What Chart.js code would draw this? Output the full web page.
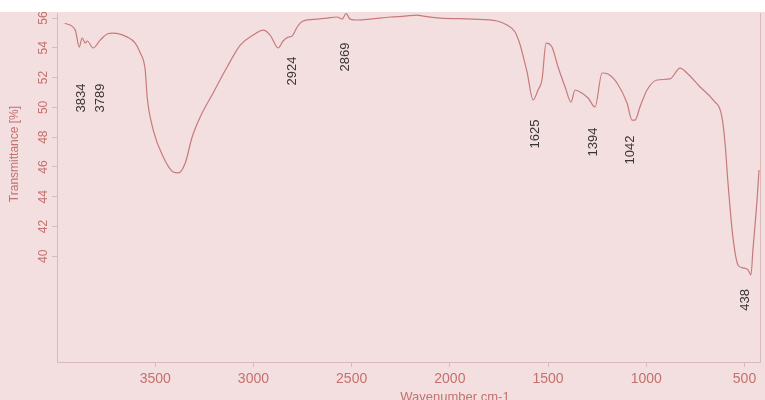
<!DOCTYPE html>
<html><head><meta charset="utf-8">
<script src="https://cdn.jsdelivr.net/npm/chart.js@4"></script>
<style>html,body{margin:0;padding:0;background:#fff;}canvas{display:block}</style>
</head><body>
<canvas id="c" width="765" height="400"></canvas>
<script>
// Spectrum values (wavenumber cm-1, transmittance %)
const wavenumbers = [3960,3907,3887,3872,3856,3846,3816,3780,3744,3714,3642,3602,3576,3551,3541,3510,3459,3408,3383,3347,3312,3271,3205,3134,3067,3001,2950,2915,2874,2849,2823,2803,2777,2747,2676,2625,2574,2548,2528,2508,2472,2406,2304,2228,2167,2136,2050,1882,1760,1709,1668,1642,1622,1607,1576,1551,1531,1510,1480,1449,1413,1383,1363,1337,1296,1261,1225,1195,1149,1098,1073,1057,1032,996,945,879,828,793,726,660,615,599,584,559,533,508,482,467,457,436,426];
const transmittance = [55.65,55.19,54.05,54.66,54.32,54.46,53.99,54.52,54.93,54.99,54.72,54.32,53.65,52.51,50.70,48.48,46.67,45.66,45.60,46.27,48.01,49.36,50.97,52.71,54.19,54.86,55.19,54.86,53.99,54.46,54.72,54.79,55.40,55.80,55.93,56.00,56.07,55.93,56.30,55.93,55.87,55.93,56.07,56.13,56.20,56.13,56.00,55.93,55.80,55.53,55.06,54.19,53.18,52.38,50.50,51.17,51.84,54.32,54.05,52.71,51.37,50.36,51.17,51.03,50.63,50.03,52.31,52.24,51.64,50.30,49.15,49.15,50.03,51.17,51.84,51.91,52.64,52.31,51.37,50.50,49.36,47.61,44.93,41.30,39.42,39.22,39.09,38.75,40.43,43.79,45.80];
const xTickValues = [3500,3000,2500,2000,1500,1000,500];
const yTickValues = [40,42,44,46,48,50,52,54,56];
const peakLabels = ['3834','3789','2924','2869','1625','1394','1042','438'];
const peakLabelWavenumber = [3877,3780,2803,2533,1566,1271,1083,497];
const peakLabelTransmittance = [50.63,50.63,52.44,53.38,48.21,47.68,47.14,37.07];
const xAxisTitle = 'Wavenumber cm-1';
const yAxisTitle = 'Transmittance [%]';

const pink = '#f3dfe0';
const axisColor = '#d9b9ba';
const labelColor = '#c4706e';
const lineColor = '#c77a7b';

const decor = {
  id: 'decor',
  beforeDraw(chart) {
    const ctx = chart.ctx;
    ctx.save();
    ctx.fillStyle = pink;
    ctx.fillRect(0, 0, chart.width, chart.height);
    ctx.restore();
  },
  afterDraw(chart) {
    const ctx = chart.ctx;
    const a = chart.chartArea;
    const xs = chart.scales.x, ys = chart.scales.y;
    ctx.save();
    ctx.strokeStyle = axisColor;
    ctx.lineWidth = 1;
    ctx.beginPath();
    ctx.moveTo(a.right + 0.5, a.top);
    ctx.lineTo(a.right + 0.5, a.bottom);
    ctx.stroke();
    ctx.fillStyle = '#3a3536';
    ctx.font = '13px "Liberation Sans", Arial, sans-serif';
    ctx.textAlign = 'center';
    ctx.textBaseline = 'middle';
    peakLabels.forEach((t, i) => {
      const px = xs.getPixelForValue(peakLabelWavenumber[i]);
      const py = ys.getPixelForValue(peakLabelTransmittance[i]);
      ctx.save();
      ctx.translate(px, py);
      ctx.rotate(-Math.PI / 2);
      ctx.fillText(t, 0, 0);
      ctx.restore();
    });
    ctx.fillStyle = labelColor;
    ctx.font = '12px "Liberation Sans", Arial, sans-serif';
    ctx.save();
    ctx.translate(15, 154);
    ctx.rotate(-Math.PI / 2);
    ctx.fillText(yAxisTitle, 0, 0);
    ctx.restore();
    ctx.font = '13px "Liberation Sans", Arial, sans-serif';
    ctx.textBaseline = 'top';
    ctx.fillText(xAxisTitle, 455, 391);
    ctx.fillStyle = '#ffffff';
    ctx.fillRect(0, 0, chart.width, 12);
    ctx.restore();
  }
};

new Chart(document.getElementById('c'), {
  type: 'line',
  data: {
    datasets: [{
      data: wavenumbers.map((w, i) => ({x: w, y: transmittance[i]})),
      borderColor: lineColor,
      borderWidth: 1.2,
      pointRadius: 0,
      fill: false,
      cubicInterpolationMode: 'monotone'
    }]
  },
  options: {
    responsive: false,
    animation: false,
    devicePixelRatio: 1,
    layout: {padding: {top: 13, right: 5, left: 0, bottom: 0}},
    plugins: {legend: {display: false}, tooltip: {enabled: false}},
    scales: {
      x: {
        type: 'linear',
        reverse: true,
        min: 421,
        max: 4000,
        afterBuildTicks: s => { s.ticks = xTickValues.map(v => ({value: v})); },
        afterFit: s => { s.height = 38; },
        ticks: {color: labelColor, font: {family: '"Liberation Sans", Arial, sans-serif', size: 14}, padding: 4, maxRotation: 0, autoSkip: false, callback: v => String(v)},
        grid: {drawOnChartArea: false, drawTicks: true, tickLength: 5, color: axisColor},
        border: {color: axisColor, width: 1}
      },
      y: {
        min: 32.9,
        max: 56.34,
        afterBuildTicks: s => { s.ticks = yTickValues.map(v => ({value: v})); },
        afterFit: s => { s.width = 57; },
        ticks: {color: labelColor, font: {family: '"Liberation Sans", Arial, sans-serif', size: 12}, minRotation: 90, maxRotation: 90, crossAlign: 'center', padding: 2, autoSkip: false, callback: v => String(v)},
        grid: {drawOnChartArea: false, drawTicks: true, tickLength: 5, color: axisColor},
        border: {color: axisColor, width: 1}
      }
    }
  },
  plugins: [decor]
});
</script>
</body></html>
